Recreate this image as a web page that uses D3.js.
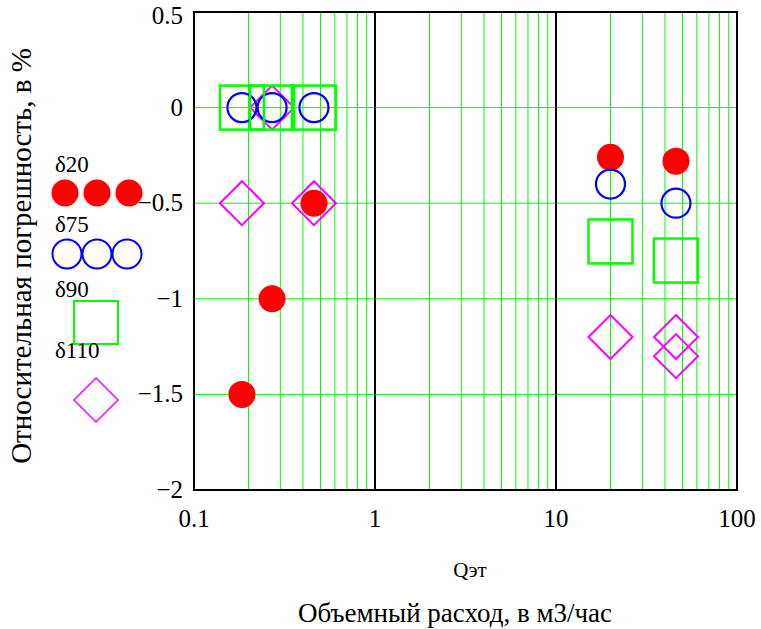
<!DOCTYPE html>
<html>
<head>
<meta charset="utf-8">
<script src="https://cdn.jsdelivr.net/npm/d3@7"></script>
<style>
  body { margin: 0; background: #fff; }
  svg { display: block; font-family: "Liberation Serif", "DejaVu Serif", serif; }
</style>
</head>
<body>
<div id="chart"></div>
<script>
// Flow values (m3/h) and relative errors (%) per series
const q20 = [0.184, 0.27, 0.46, 20, 46];
const d20 = [-1.5, -1.0, -0.5, -0.26, -0.28];

const q75 = [0.184, 0.27, 0.46, 20, 46];
const d75 = [0, 0, 0, -0.4, -0.5];

const q90 = [0.184, 0.27, 0.46, 20, 46];
const d90 = [0, 0, 0, -0.7, -0.8];

const q110 = [0.184, 0.27, 0.46, 20, 46, 46];
const d110 = [-0.5, 0, -0.5, -1.2, -1.2, -1.3];

const xTicks = [0.1, 1, 10, 100];
const yTicks = [0.5, 0, -0.5, -1, -1.5, -2];
const yTickLabels = ["0.5", "0", "\u22120.5", "\u22121", "\u22121.5", "\u22122"];

const width = 761, height = 629;
const mLeft = 194, mRight = 737, mTop = 12, mBottom = 490;

const x = d3.scaleLog().domain([0.1, 100]).range([mLeft, mRight]);
const y = d3.scaleLinear().domain([-2, 0.5]).range([mBottom, mTop]);

const svg = d3.select("#chart").append("svg")
  .attr("width", width)
  .attr("height", height);

// grid
const minor = [];
[0.1, 1, 10].forEach(dec => {
  for (let i = 2; i <= 9; i++) minor.push(dec * i);
});

svg.append("g").selectAll("line")
  .data(minor)
  .join("line")
  .attr("x1", d => x(d)).attr("x2", d => x(d))
  .attr("y1", mTop).attr("y2", mBottom)
  .attr("stroke", "#00ff00").attr("stroke-width", 1);

svg.append("g").selectAll("line")
  .data(yTicks.filter(v => v < 0.5 && v > -2))
  .join("line")
  .attr("x1", mLeft).attr("x2", mRight)
  .attr("y1", d => y(d)).attr("y2", d => y(d))
  .attr("stroke", "#00ff00").attr("stroke-width", 1);

// decade lines
svg.append("g").selectAll("line")
  .data([1, 10])
  .join("line")
  .attr("x1", d => x(d)).attr("x2", d => x(d))
  .attr("y1", mTop).attr("y2", mBottom)
  .attr("stroke", "#000").attr("stroke-width", 2);

// frame
svg.append("rect")
  .attr("x", mLeft).attr("y", mTop)
  .attr("width", mRight - mLeft).attr("height", mBottom - mTop)
  .attr("fill", "none").attr("stroke", "#000").attr("stroke-width", 2);

// tick labels (top one pushed down so it stays inside the picture)
svg.append("g").selectAll("text")
  .data(yTicks)
  .join("text")
  .attr("x", mLeft - 11)
  .attr("y", d => Math.max(y(d) + 8, 24))
  .attr("text-anchor", "end")
  .attr("font-size", 25)
  .text((d, i) => yTickLabels[i]);

svg.append("g").selectAll("text")
  .data(xTicks)
  .join("text")
  .attr("x", d => x(d))
  .attr("y", 527)
  .attr("text-anchor", "middle")
  .attr("font-size", 25)
  .text(d => String(d));

// axis titles
svg.append("text")
  .attr("transform", "translate(31,256) rotate(-90)")
  .attr("text-anchor", "middle")
  .attr("font-size", 29)
  .text("Относительная погрешность, в %");

svg.append("text")
  .attr("x", 470).attr("y", 577)
  .attr("text-anchor", "middle")
  .attr("font-size", 21)
  .text("Qэт");

svg.append("text")
  .attr("x", 455).attr("y", 622)
  .attr("text-anchor", "middle")
  .attr("font-size", 27)
  .text("Объемный расход, в м3/час");

// markers
const diamond = s => `M0,${-s}L${s},0L0,${s}L${-s},0Z`;
const plot = svg.append("g");

plot.append("g").selectAll("path")
  .data(d3.zip(q110, d110))
  .join("path")
  .attr("transform", d => `translate(${x(d[0])},${y(d[1])})`)
  .attr("d", diamond(22))
  .attr("fill", "none").attr("stroke", "#ff00ff").attr("stroke-width", 2);

plot.append("g").selectAll("circle")
  .data(d3.zip(q20, d20))
  .join("circle")
  .attr("cx", d => x(d[0])).attr("cy", d => y(d[1]))
  .attr("r", 13.5)
  .attr("fill", "#ff0000");

plot.append("g").selectAll("circle")
  .data(d3.zip(q75, d75))
  .join("circle")
  .attr("cx", d => x(d[0])).attr("cy", d => y(d[1]))
  .attr("r", 14.5)
  .attr("fill", "none").attr("stroke", "#0000ff").attr("stroke-width", 2.2);

plot.append("g").selectAll("rect")
  .data(d3.zip(q90, d90))
  .join("rect")
  .attr("x", d => x(d[0]) - 22).attr("y", d => y(d[1]) - 22)
  .attr("width", 44).attr("height", 44)
  .attr("fill", "none").attr("stroke", "#00ff00").attr("stroke-width", 2.5);

// legend
const legend = svg.append("g").attr("font-size", 23);
legend.append("text").attr("x", 55).attr("y", 172).text("δ20");
legend.append("g").selectAll("circle")
  .data([65, 97, 129])
  .join("circle")
  .attr("cx", d => d).attr("cy", 193).attr("r", 13.5)
  .attr("fill", "#ff0000");

legend.append("text").attr("x", 55).attr("y", 232).text("δ75");
legend.append("g").selectAll("circle")
  .data([67, 97, 127])
  .join("circle")
  .attr("cx", d => d).attr("cy", 254).attr("r", 14.5)
  .attr("fill", "none").attr("stroke", "#0000ff").attr("stroke-width", 2);

legend.append("text").attr("x", 55).attr("y", 297).text("δ90");
legend.append("rect")
  .attr("x", 74).attr("y", 301).attr("width", 44).attr("height", 43)
  .attr("fill", "none").attr("stroke", "#00ff00").attr("stroke-width", 2);

legend.append("text").attr("x", 55).attr("y", 358).text("δ110");
legend.append("path")
  .attr("transform", "translate(96,400)")
  .attr("d", diamond(22))
  .attr("fill", "none").attr("stroke", "#ff00ff").attr("stroke-width", 1.5);
</script>
</body>
</html>
